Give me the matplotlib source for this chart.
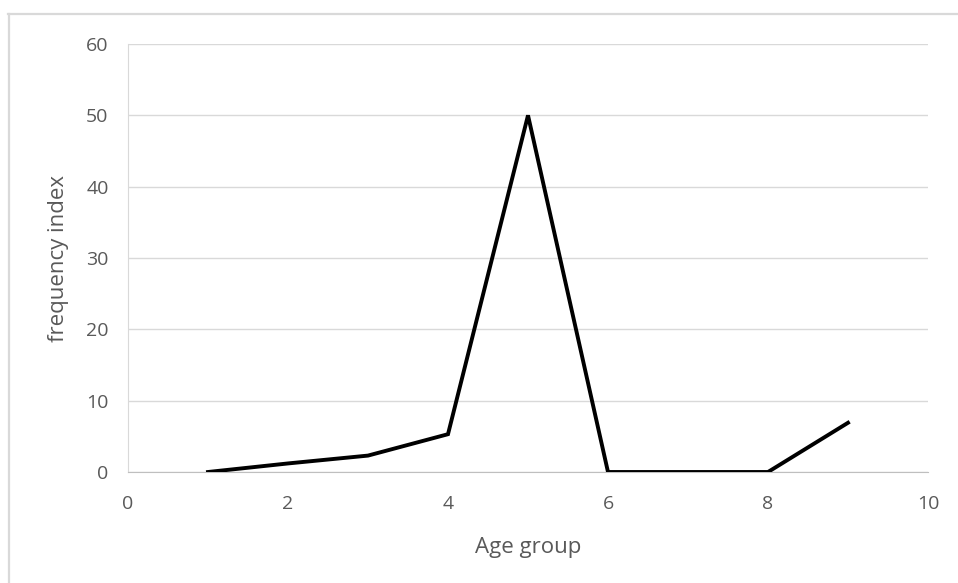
import matplotlib.pyplot as plt
from matplotlib.lines import Line2D

plt.rcParams['font.family'] = ['Open Sans', 'DejaVu Sans']

age_group = [1, 2, 3, 4, 5, 6, 7, 8, 9]
freq_index = [0, 1.2, 2.3, 5.3, 50, 0, 0, 0, 6.9]

W, H = 958, 583
fig = plt.figure(figsize=(W / 100, H / 100), dpi=100)
ax = fig.add_axes([128 / W, 1 - 472 / H, 800 / W, 428 / H])

ax.plot(age_group, freq_index, color='black', linewidth=2.8, zorder=3,
        solid_joinstyle='miter')

ax.set_xlim(0, 10)
ax.set_ylim(0, 60)
ax.set_xticks(range(0, 11, 2))
ax.set_yticks(range(0, 61, 10))
ax.grid(axis='y', color='#d9d9d9', linewidth=1)
ax.set_axisbelow(True)
for s in ['top', 'right']:
    ax.spines[s].set_visible(False)
ax.spines['bottom'].set_color('#bfbfbf')
ax.spines['left'].set_color('#d9d9d9')
ax.tick_params(length=0, labelsize=14, labelcolor='#595959')
ax.tick_params(axis='x', pad=16.5)
ax.tick_params(axis='y', pad=14)

ax.set_xlabel('Age group', fontsize=16, color='#595959')
ax.set_ylabel('frequency index', fontsize=16, color='#595959')
ax.xaxis.set_label_coords(0.5, -0.153)
ax.yaxis.set_label_coords(-0.0735, 0.5)

# chart area border (cut off at right and bottom)
fig.add_artist(Line2D([8.5 / W, 8.5 / W], [0, 1 - 14 / H], transform=fig.transFigure,
                      color='#d9d9d9', linewidth=1.6))
fig.add_artist(Line2D([8 / W, 1], [1 - 14 / H, 1 - 14 / H], transform=fig.transFigure,
                      color='#d9d9d9', linewidth=1.6))

fig.savefig('out.png', dpi=100)
